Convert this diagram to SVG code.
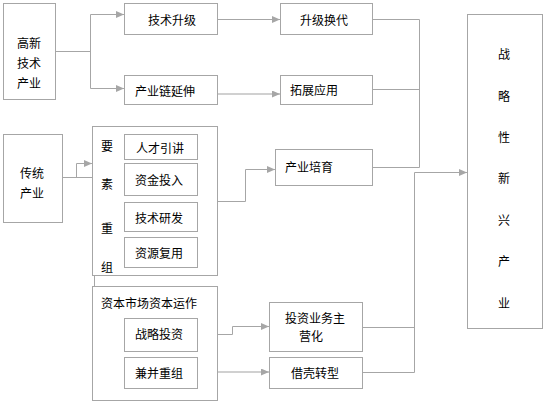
<svg xmlns="http://www.w3.org/2000/svg" width="546" height="404" viewBox="0 0 546 404">
<defs>
<style>
.box{fill:#fff;stroke:#a6a6a6;stroke-width:1}
.ln{fill:none;stroke:#a6a6a6;stroke-width:1}
.lt{fill:none;stroke:#d0d0d0;stroke-width:2}
text{font-family:"Noto Sans CJK SC","Liberation Sans",sans-serif;font-size:12px;fill:#000;dominant-baseline:central}
.c{text-anchor:middle}
</style>
<marker id="ah" markerUnits="userSpaceOnUse" markerWidth="8" markerHeight="7" refX="8" refY="3.5" orient="auto">
<path d="M0,0 L8,3.5 L0,7 z" fill="#a6a6a6"/>
</marker>
</defs>
<rect width="546" height="404" fill="#fff"/>
<g id="connectors">
<path class="ln" d="M55,51.5 H90.5 M90.5,14.5 V88.5"/>
<path class="ln" d="M90.5,14.5 H124" marker-end="url(#ah)"/>
<path class="ln" d="M90.5,88.5 H124" marker-end="url(#ah)"/>
<path class="ln" d="M217,19.5 H280" marker-end="url(#ah)"/>
<path class="lt" d="M217,94 H280" marker-end="url(#ah)"/>
<path class="ln" d="M372,19.5 H419.5 V167.5 M372,89.5 H419.5 M372,167.5 H419.5"/>
<path class="ln" d="M414.5,372.5 V172.5 H467" marker-end="url(#ah)"/>
<path class="ln" d="M362,327.5 H414.5 M362,372.5 H414.5"/>
<path class="ln" d="M62,177.5 H94.5 V373.5"/>
<path class="ln" d="M76.5,177.5 V163.5 H92" marker-end="url(#ah)"/>
<path class="ln" d="M94.5,334.5 H124" marker-end="url(#ah)"/>
<path class="ln" d="M94.5,373.5 H124" marker-end="url(#ah)"/>
<path class="ln" d="M217,201.5 H245.5 V169.5 H275" marker-end="url(#ah)"/>
<path class="ln" d="M197,334.5 H232.5 V326.5 H269" marker-end="url(#ah)"/>
<path class="lt" d="M197,372 H269" marker-end="url(#ah)"/>
</g>
<g id="gaoxin"><rect class="box" x="3.5" y="3.5" width="52" height="96"/>
<text class="c" x="29" y="42">高新</text><text class="c" x="29" y="62">技术</text><text class="c" x="29" y="82">产业</text></g>
<g id="jishushengji"><rect class="box" x="124.5" y="3.5" width="93" height="31"/><text class="c" x="172" y="19">技术升级</text></g>
<g id="chanyelian"><rect class="box" x="124.5" y="75.5" width="93" height="29"/><text class="c" x="165" y="90">产业链延伸</text></g>
<g id="shengjihuandai"><rect class="box" x="280.5" y="3.5" width="92" height="31"/><text class="c" x="324" y="19">升级换代</text></g>
<g id="tuozhan"><rect class="box" x="280.5" y="75.5" width="92" height="29"/><text x="290" y="89">拓展应用</text></g>
<g id="zhanlue"><rect class="box" x="467.5" y="14.5" width="75" height="314"/>
<text class="c" x="504" y="53">战</text><text class="c" x="504" y="95">略</text><text class="c" x="504" y="136">性</text><text class="c" x="504" y="177">新</text><text class="c" x="504" y="219">兴</text><text class="c" x="504" y="260">产</text><text class="c" x="504" y="302">业</text></g>
<g id="chuantong"><rect class="box" x="3.5" y="134.5" width="59" height="88"/>
<text class="c" x="32" y="172">传统</text><text class="c" x="32" y="192">产业</text></g>
<g id="yaosu"><rect class="box" x="92.5" y="126.5" width="125" height="149"/>
<text class="c" x="107" y="145">要</text><text class="c" x="107" y="183">素</text><text class="c" x="107" y="227">重</text><text class="c" x="107" y="266">组</text></g>
<g id="rencai"><rect class="box" x="124.5" y="134.5" width="73" height="25"/><text class="c" x="160" y="147">人才引讲</text></g>
<g id="zijin"><rect class="box" x="124.5" y="163.5" width="73" height="32"/><text class="c" x="159" y="179">资金投入</text></g>
<g id="yanfa"><rect class="box" x="124.5" y="202.5" width="73" height="29"/><text class="c" x="159" y="217">技术研发</text></g>
<g id="fuyong"><rect class="box" x="124.5" y="237.5" width="73" height="30"/><text class="c" x="159" y="252">资源复用</text></g>
<g id="peiyu"><rect class="box" x="275.5" y="149.5" width="97" height="36"/><text x="285" y="166">产业培育</text></g>
<g id="ziben"><rect class="box" x="92.5" y="286.5" width="125" height="114"/><text x="101" y="302">资本市场资本运作</text></g>
<g id="zltz"><rect class="box" x="124.5" y="318.5" width="73" height="33"/><text class="c" x="159" y="333">战略投资</text></g>
<g id="jianbing"><rect class="box" x="124.5" y="357.5" width="73" height="31"/><text class="c" x="159" y="372">兼并重组</text></g>
<g id="zhuyinghua"><rect class="box" x="269.5" y="302.5" width="93" height="49"/>
<text class="c" x="315" y="317">投资业务主</text><text class="c" x="311" y="335">营化</text></g>
<g id="jieke"><rect class="box" x="269.5" y="357.5" width="93" height="31"/><text class="c" x="315" y="372">借壳转型</text></g>
</svg>
